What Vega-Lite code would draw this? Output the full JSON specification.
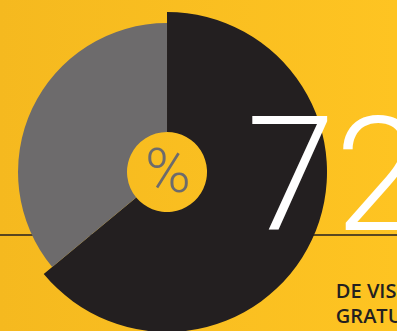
{
  "$schema": "https://vega.github.io/schema/vega-lite/v6.json",
  "width": 397,
  "height": 331,
  "autosize": {"type": "none"},
  "padding": 0,
  "background": "#FBC020",
  "config": {"view": {"stroke": null}},
  "data": {"values": [
    {"segment": "De visitas gratuitas", "pct": 64, "rank": 1},
    {"segment": "Otras", "pct": 36, "rank": 2}
  ]},
  "layer": [
    {
      "data": {"values": [{}]},
      "mark": {"type": "rect", "color": {"gradient": "linear", "x1": 0, "y1": 0, "x2": 1, "y2": 0, "stops": [{"offset": 0, "color": "#F5B91F"}, {"offset": 1, "color": "#FEC422"}]}},
      "encoding": {
        "x": {"datum": 0, "type": "quantitative", "scale": {"domain": [0, 100]}, "axis": null},
        "x2": {"datum": 100},
        "y": {"datum": 0, "type": "quantitative", "scale": {"domain": [0, 100]}, "axis": null},
        "y2": {"datum": 100}
      }
    },
    {
      "data": {"values": [{}]},
      "mark": {"type": "rule", "color": "#231F20", "strokeWidth": 1.5},
      "encoding": {
        "x": {"datum": 0, "type": "quantitative"},
        "x2": {"datum": 100},
        "y": {"datum": 29.0, "type": "quantitative"}
      }
    },
    {
      "mark": {"type": "arc", "radius": 160, "innerRadius": 40, "color": "#231F20"},
      "encoding": {
        "theta": {"field": "pct", "type": "quantitative", "stack": true},
        "order": {"field": "rank"},
        "x": {"datum": 42.07, "type": "quantitative"},
        "y": {"datum": 48.04, "type": "quantitative"},
        "opacity": {"condition": {"test": "datum.rank == 1", "value": 1}, "value": 0}
      }
    },
    {
      "mark": {"type": "arc", "radius": 149, "innerRadius": 40, "color": "#6D6B6C"},
      "encoding": {
        "theta": {"field": "pct", "type": "quantitative", "stack": true},
        "order": {"field": "rank"},
        "x": {"datum": 42.07, "type": "quantitative"},
        "y": {"datum": 48.04, "type": "quantitative"},
        "opacity": {"condition": {"test": "datum.rank == 2", "value": 1}, "value": 0}
      }
    },
    {
      "data": {"values": [{}]},
      "mark": {"type": "text", "text": "%", "font": "Roboto", "fontWeight": 300, "fontSize": 62, "color": "#6D6B6C", "align": "center", "baseline": "alphabetic"},
      "encoding": {
        "x": {"datum": 42.3, "type": "quantitative"},
        "y": {"datum": 42.0, "type": "quantitative"}
      }
    },
    {
      "data": {"values": [{}]},
      "mark": {"type": "text", "text": "72", "font": "Roboto", "fontWeight": 300, "fontSize": 160, "color": "#FFFFFF", "align": "left", "baseline": "alphabetic", "letterSpacing": -3},
      "encoding": {
        "x": {"datum": 62.0, "type": "quantitative"},
        "y": {"datum": 30.5, "type": "quantitative"}
      }
    },
    {
      "data": {"values": [{}]},
      "mark": {"type": "text", "text": ["DE VISITAS", "GRATUITAS"], "lineHeight": 25, "font": "Open Sans", "fontWeight": 600, "fontSize": 20, "color": "#231F20", "align": "left", "baseline": "alphabetic"},
      "encoding": {
        "x": {"datum": 84.6, "type": "quantitative"},
        "y": {"datum": 9.97, "type": "quantitative"}
      }
    }
  ]
}
